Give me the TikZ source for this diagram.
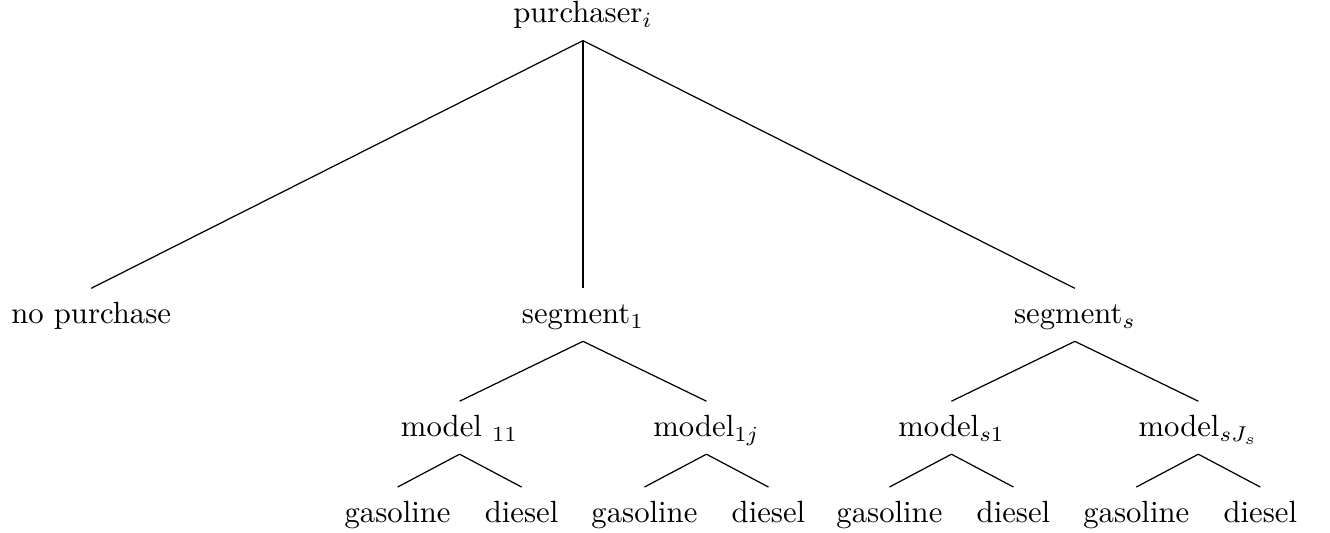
\documentclass[tikz,border=0pt]{standalone}
\usetikzlibrary{positioning}

\begin{document}
\begin{tikzpicture}[tnode/.style={inner xsep=0pt,inner ysep=3.33pt,text height=8pt,text depth=2.2pt}]
\useasboundingbox (-189.9pt,-166.1pt) rectangle (243.3pt,7.49pt);
\draw (0,0) node[tnode,anchor=base] (purchaser) {purchaser$_i$};
\node[tnode] (nopurchase) [below=80.7pt of purchaser,xshift=-160.2pt] {no purchase};
\node[tnode] (segone) [below=80.7pt of purchaser] {segment$_1$};
\node[tnode] (segs) [below=80.7pt of purchaser,xshift=160.2pt] {segment$_s$};

\node[tnode] (modelA) [below=19.5pt of segone,xshift=-40.2pt] {model $_{11}$};
\node[tnode] (modelB) [below=19.5pt of segone,xshift=40.2pt] {model$_{1j}$};
\node[tnode] (modelC) [below=19.5pt of segs,xshift=-40.2pt] {model$_{s1}$};
\node[tnode] (modelD) [below=19.5pt of segs,xshift=40.2pt] {model$_{sJ_s}$};

\node[tnode] (gasA) [below=10.7pt of modelA,xshift=-20.2pt] {gasoline};
\node[tnode] (dieselA) [below=10.7pt of modelA,xshift=20.2pt] {diesel};
\node[tnode] (gasB) [below=10.7pt of modelB,xshift=-20.2pt] {gasoline};
\node[tnode] (dieselB) [below=10.7pt of modelB,xshift=20.2pt] {diesel};
\node[tnode] (gasC) [below=10.7pt of modelC,xshift=-20.2pt] {gasoline};
\node[tnode] (dieselC) [below=10.7pt of modelC,xshift=20.2pt] {diesel};
\node[tnode] (gasD) [below=10.7pt of modelD,xshift=-20.2pt] {gasoline};
\node[tnode] (dieselD) [below=10.7pt of modelD,xshift=20.2pt] {diesel};

\draw (node cs:name=purchaser,anchor=south) -- (node cs:name=nopurchase,anchor=north);
\draw (node cs:name=purchaser,anchor=south) -- (node cs:name=segone,anchor=north);
\draw (node cs:name=purchaser,anchor=south) -- (node cs:name=segs,anchor=north);

\draw (node cs:name=segone,anchor=south) -- (node cs:name=modelA,anchor=north);
\draw (node cs:name=segone,anchor=south) -- (node cs:name=modelB,anchor=north);
\draw (node cs:name=segs,anchor=south) -- (node cs:name=modelC,anchor=north);
\draw (node cs:name=segs,anchor=south) -- (node cs:name=modelD,anchor=north);

\draw (node cs:name=modelA,anchor=south) -- (node cs:name=gasA,anchor=north);
\draw (node cs:name=modelA,anchor=south) -- (node cs:name=dieselA,anchor=north);
\draw (node cs:name=modelB,anchor=south) -- (node cs:name=gasB,anchor=north);
\draw (node cs:name=modelB,anchor=south) -- (node cs:name=dieselB,anchor=north);
\draw (node cs:name=modelC,anchor=south) -- (node cs:name=gasC,anchor=north);
\draw (node cs:name=modelC,anchor=south) -- (node cs:name=dieselC,anchor=north);
\draw (node cs:name=modelD,anchor=south) -- (node cs:name=gasD,anchor=north);
\draw (node cs:name=modelD,anchor=south) -- (node cs:name=dieselD,anchor=north);

\end{tikzpicture}
\end{document}
